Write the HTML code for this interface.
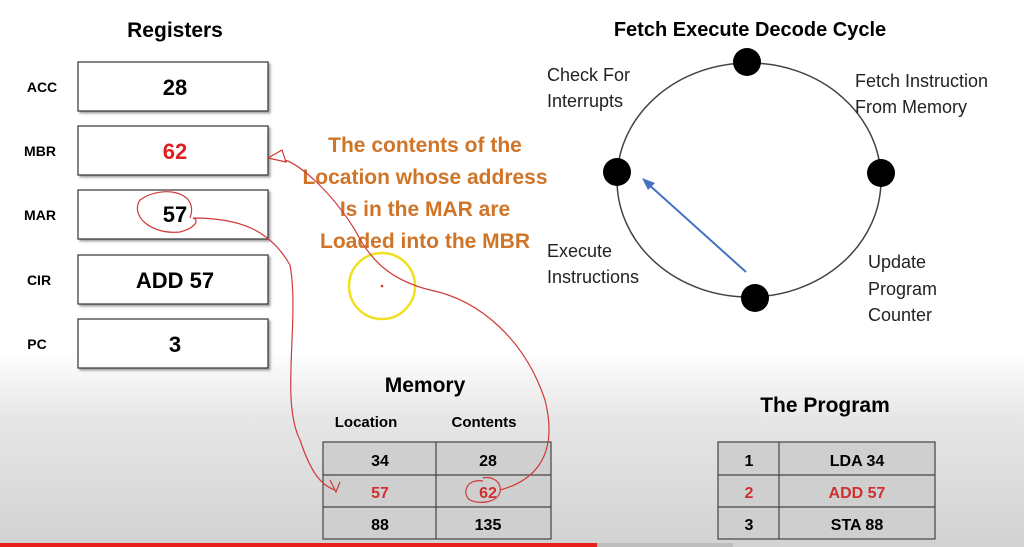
<!DOCTYPE html>
<html><head><style>
html,body{margin:0;padding:0;}
body{width:1024px;height:547px;overflow:hidden;background:linear-gradient(#fff 0,#fff 350px,#e6e6e6 420px,#d2d2d2 547px);font-family:"Liberation Sans",sans-serif;position:relative;}
svg{position:absolute;left:0;top:0;}
</style></head><body>
<svg width="1024" height="547" viewBox="0 0 1024 547" font-family="Liberation Sans, sans-serif">
<defs><filter id="sh"><feDropShadow dx="2" dy="2" stdDeviation="1" flood-color="#666" flood-opacity="0.6"/></filter></defs>
<text x="175" y="37" font-size="21" font-weight="bold" text-anchor="middle">Registers</text>
<g font-size="14" font-weight="bold" text-anchor="middle">
<text x="42" y="92">ACC</text><text x="40" y="156">MBR</text><text x="40" y="220">MAR</text><text x="39" y="285">CIR</text><text x="37" y="349">PC</text>
</g>
<g fill="#fff" stroke="#333" stroke-width="1.2" filter="url(#sh)">
<rect x="78" y="62" width="190" height="49"/><rect x="78" y="126" width="190" height="49"/><rect x="78" y="190" width="190" height="49"/><rect x="78" y="255" width="190" height="49"/><rect x="78" y="319" width="190" height="49"/>
</g>
<g font-size="22" font-weight="bold" text-anchor="middle">
<text x="175" y="95">28</text><text x="175" y="159" fill="#e02020">62</text><text x="175" y="222">57</text><text x="175" y="288">ADD 57</text><text x="175" y="352">3</text>
</g>
<g font-size="21" font-weight="bold" fill="#d07428" text-anchor="middle">
<text x="425" y="152">The contents of the</text><text x="425" y="184">Location whose address</text><text x="425" y="216">Is in the MAR are</text><text x="425" y="248">Loaded into the MBR</text>
</g>
<circle cx="382" cy="286" r="33" fill="none" stroke="#f0e020" stroke-width="2.5"/>
<circle cx="382" cy="286" r="1.3" fill="#e03030"/>
<text x="750" y="36" font-size="20" font-weight="bold" text-anchor="middle">Fetch Execute Decode Cycle</text>
<ellipse cx="749" cy="180" rx="132" ry="117" fill="none" stroke="#444" stroke-width="1.5"/>
<g fill="#000"><circle cx="747" cy="62" r="14"/><circle cx="617" cy="172" r="14"/><circle cx="881" cy="173" r="14"/><circle cx="755" cy="298" r="14"/></g>
<line x1="746" y1="272" x2="647" y2="183" stroke="#4472c4" stroke-width="2"/>
<polygon points="642,178 655,183 648,190" fill="#4472c4"/>
<g font-size="18" fill="#222">
<text x="547" y="81">Check For</text><text x="547" y="107">Interrupts</text>
<text x="855" y="87">Fetch Instruction</text><text x="855" y="113">From Memory</text>
<text x="547" y="257">Execute</text><text x="547" y="283">Instructions</text>
<text x="868" y="268">Update</text><text x="868" y="295">Program</text><text x="868" y="321">Counter</text>
</g>
<text x="425" y="392" font-size="21" font-weight="bold" text-anchor="middle">Memory</text>
<text x="366" y="427" font-size="15" font-weight="bold" text-anchor="middle">Location</text>
<text x="484" y="427" font-size="15" font-weight="bold" text-anchor="middle">Contents</text>
<text x="825" y="412" font-size="21" font-weight="bold" text-anchor="middle">The Program</text>
<g fill="#cfcfcf" stroke="#444" stroke-width="1.2">
<rect x="323" y="442" width="228" height="97"/><rect x="718" y="442" width="217" height="97"/>
</g>
<g stroke="#444" stroke-width="1.2">
<line x1="436" y1="442" x2="436" y2="539"/><line x1="323" y1="475" x2="551" y2="475"/><line x1="323" y1="507" x2="551" y2="507"/>
<line x1="779" y1="442" x2="779" y2="539"/><line x1="718" y1="475" x2="935" y2="475"/><line x1="718" y1="507" x2="935" y2="507"/>
</g>
<g font-size="16" font-weight="bold" text-anchor="middle">
<text x="380" y="466">34</text><text x="488" y="466">28</text>
<text x="380" y="498" fill="#d03030">57</text><text x="488" y="498" fill="#d03030">62</text>
<text x="380" y="530">88</text><text x="488" y="530">135</text>
<text x="749" y="466">1</text><text x="857" y="466">LDA 34</text>
<text x="749" y="498" fill="#d03030">2</text><text x="857" y="498" fill="#d03030">ADD 57</text>
<text x="749" y="530">3</text><text x="857" y="530">STA  88</text>
</g>
<g fill="none" stroke="#d03a3a" stroke-width="1.2">
<path d="M190,218 C200,190 160,185 140,200 C130,215 150,235 180,232 C195,228 200,220 193,218 C240,218 270,230 290,265 C300,320 280,400 300,440 C310,470 320,485 335,490"/>
<path d="M330,480 L336,492 L340,482"/>
<path d="M483,481 C465,478 462,495 470,500 C480,505 498,502 500,492 C502,480 490,476 483,478 M500,490 C530,482 560,460 545,400 C525,340 480,300 430,290 C390,280 370,260 355,230 C330,190 300,165 285,160"/>
<path d="M268,158 L282,150 L286,162 Z"/>
</g>
<rect x="0" y="543" width="597" height="4" fill="#e8201c"/>
<rect x="597" y="543" width="136" height="4" fill="#bdbdbd"/>
</svg>
</body></html>
